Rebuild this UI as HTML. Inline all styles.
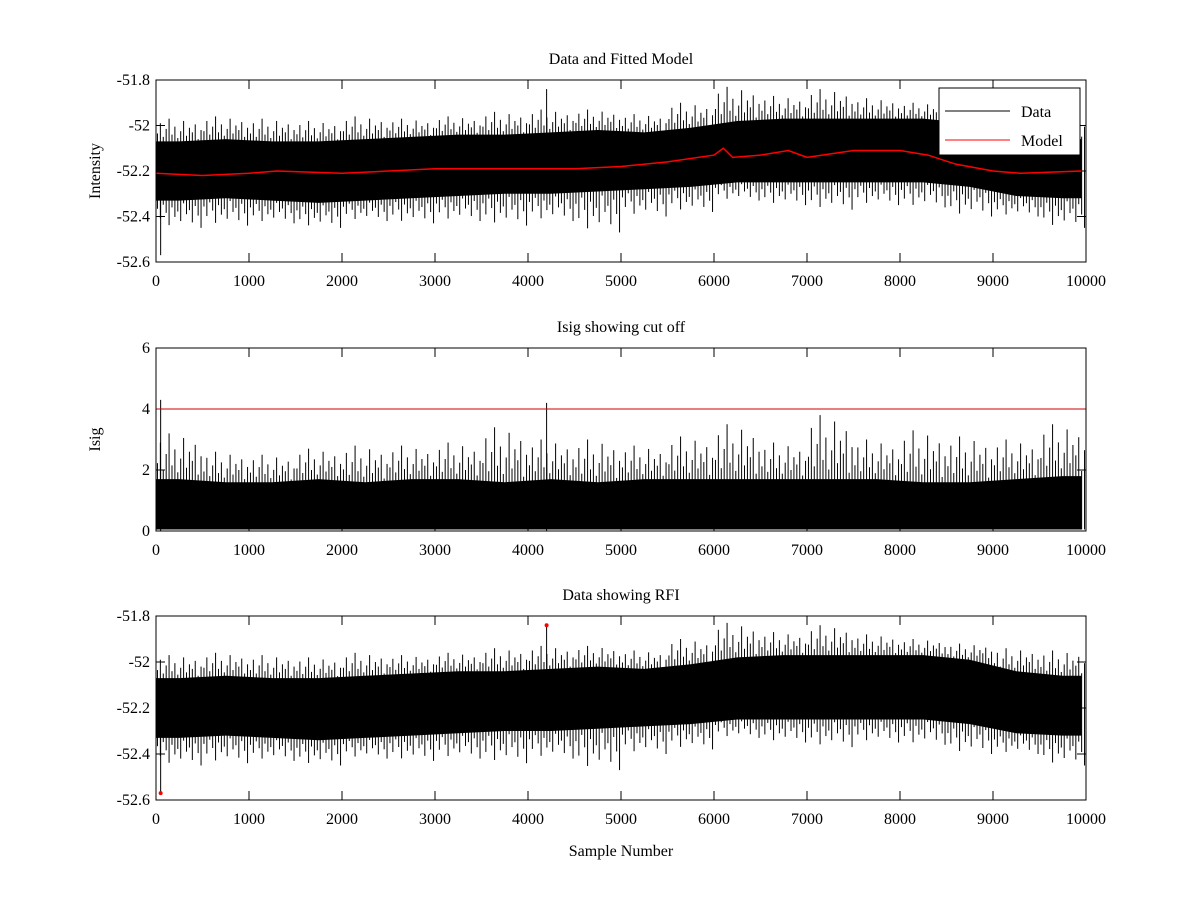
<!DOCTYPE html>
<html><head><meta charset="utf-8"><style>
body{margin:0;background:#fff;}
svg text{font-family:"Liberation Serif",serif;font-size:16px;fill:#000;}
</style></head><body>
<svg id="chart" width="1200" height="900" xmlns="http://www.w3.org/2000/svg"></svg>
<script>
const binCenters=[250,750,1250,1750,2250,2750,3250,3750,4250,4750,5250,5750,6250,6750,7250,7750,8250,8750,9250,9750];
const bandHi=[-52.07,-52.06,-52.07,-52.07,-52.06,-52.05,-52.04,-52.04,-52.03,-52.02,-52.03,-52.01,-51.98,-51.97,-51.97,-51.97,-51.97,-51.99,-52.04,-52.06];
const bandLo=[-52.33,-52.32,-52.33,-52.34,-52.33,-52.32,-52.31,-52.30,-52.30,-52.29,-52.28,-52.27,-52.25,-52.25,-52.25,-52.25,-52.25,-52.27,-52.31,-52.32];
const peakHi=[-51.97,-51.96,-51.97,-51.98,-51.96,-51.97,-51.96,-51.94,-51.93,-51.93,-51.95,-51.90,-51.83,-51.87,-51.84,-51.88,-51.90,-51.92,-51.94,-51.95];
const peakLo=[-52.45,-52.44,-52.43,-52.45,-52.42,-52.43,-52.42,-52.44,-52.42,-52.47,-52.40,-52.38,-52.33,-52.35,-52.37,-52.35,-52.36,-52.40,-52.40,-52.45];
const modelX=[0,500,1000,1300,2000,2500,3000,3500,4000,4500,5000,5500,6000,6100,6200,6500,6800,7000,7500,8000,8300,8600,9000,9300,9950];
const modelY=[-52.21,-52.22,-52.21,-52.2,-52.21,-52.2,-52.19,-52.19,-52.19,-52.19,-52.18,-52.16,-52.13,-52.10,-52.14,-52.13,-52.11,-52.14,-52.11,-52.11,-52.13,-52.17,-52.2,-52.21,-52.2];
const isigHi=[1.7,1.6,1.6,1.7,1.6,1.7,1.7,1.6,1.7,1.6,1.7,1.7,1.7,1.7,1.7,1.7,1.6,1.6,1.7,1.8];
const isigPeak=[3.2,2.6,2.5,2.7,2.8,2.8,2.9,3.4,3.0,3.0,2.8,3.1,3.5,2.9,3.8,3.0,3.3,3.1,3.0,3.5];
const spikeX=[50,4200];
const spikeIntensity=[-52.57,-51.84];
const spikeIsig=[4.3,4.2];
const cutoff=4;
const xTicks=[0,1000,2000,3000,4000,5000,6000,7000,8000,9000,10000];
const yTicks1=[-51.8,-52,-52.2,-52.4,-52.6];
const yTicks2=[0,2,4,6];

const svg=document.getElementById('chart');
const NS='http://www.w3.org/2000/svg';
function el(t,a,p){const e=document.createElementNS(NS,t);for(const k in a)e.setAttribute(k,a[k]);(p||svg).appendChild(e);return e;}
const L=156,R=1086;
const xs=v=>L+(v/10000)*(R-L);
// texture pattern (fractions of reach, style only)
const texture=[0.35,0.8,0.2,0.55,1.0,0.3,0.65,0.15,0.45,0.9,0.25,0.6,0.4,0.75,0.1,0.5];
function panel(top,bot,ymin,ymax,yt,title,ylabel,name){
  const g=el('g',{});
  
  
  const ys=v=>bot-(v-ymin)/(ymax-ymin)*(bot-top);
  const tt=el('text',{x:(L+R)/2,y:top-16,'text-anchor':'middle'},g);tt.textContent=title;
  
  
  if(ylabel){const yl=el('text',{x:0,y:0,'text-anchor':'middle',transform:`translate(100,${(top+bot)/2}) rotate(-90)`},g);yl.textContent=ylabel;
  
  }
  xTicks.forEach(t=>{const x=xs(t);el('line',{x1:x,x2:x,y1:bot,y2:bot-9,stroke:'#000'},g);el('line',{x1:x,x2:x,y1:top,y2:top+9,stroke:'#000'},g);
    const tx=el('text',{x:x,y:bot+24,'text-anchor':'middle'},g);tx.textContent=t;
    
    });
  yt.forEach(t=>{const y=ys(t);el('line',{x1:L,x2:L+9,y1:y,y2:y,stroke:'#000'},g);el('line',{x1:R,x2:R-9,y1:y,y2:y,stroke:'#000'},g);
    const tx=el('text',{x:L-6,y:y+5,'text-anchor':'end'},g);tx.textContent=t;
    
    });
  return {g,ys,top,bot};
}
function frame(p){el('rect',{x:L,y:p.top,width:R-L,height:p.bot-p.top,fill:'none',stroke:'#000'},p.g);}
function noise(p,hi,lo,pkHi,pkLo){
  let d='M'+xs(0)+','+p.ys(hi[0]);
  binCenters.forEach((c,i)=>{d+=' L'+xs(c)+','+p.ys(hi[i]);});
  d+=' L'+xs(9950)+','+p.ys(hi[hi.length-1]);
  d+=' L'+xs(9950)+','+p.ys(lo[lo.length-1]);
  for(let i=binCenters.length-1;i>=0;i--)d+=' L'+xs(binCenters[i])+','+p.ys(lo[i]);
  d+=' L'+xs(0)+','+p.ys(lo[0])+' Z';
  const band=el('path',{d:d,fill:'#000'},p.g);
  
  
  binCenters.forEach((c,i)=>{
    const n=texture.length;
    for(let k=0;k<n;k++){
      const x=xs(c-250+(k+0.5)*500/n);
      const f=texture[k], g2=texture[(k+5)%n];
      const yTop=p.ys(hi[i]+(pkHi[i]-hi[i])*f);
      const yBot=pkLo?p.ys(lo[i]+(pkLo[i]-lo[i])*g2):p.ys(lo[i]);
      const s=el('line',{x1:x,x2:x,y1:yTop,y2:yBot,stroke:'#000','stroke-width':1},p.g);
      
      
    }
  });
}
// Panel 1
const p1=panel(80,262,-52.6,-51.8,yTicks1,'Data and Fitted Model','Intensity','panel-data-model');
noise(p1,bandHi,bandLo,peakHi,peakLo);
spikeX.forEach((x,i)=>el('line',{x1:xs(x),x2:xs(x),y1:p1.ys(bandHi[0]),y2:p1.ys(spikeIntensity[i]),stroke:'#000'},p1.g));
const mpts=modelX.map((x,i)=>xs(x)+','+p1.ys(modelY[i])).join(' ');
const ml=el('polyline',{points:mpts,fill:'none',stroke:'#f00','stroke-width':1.5},p1.g);


const lg=el('g',{},p1.g);


el('rect',{x:939,y:88,width:141,height:67,fill:'#fff',stroke:'#000'},lg);
el('line',{x1:945,x2:1010,y1:111,y2:111,stroke:'#000'},lg);
el('line',{x1:945,x2:1010,y1:140,y2:140,stroke:'#f00'},lg);
let t=el('text',{x:1021,y:117},lg);t.textContent='Data';

t=el('text',{x:1021,y:146},lg);t.textContent='Model';

frame(p1);
// Panel 2
const p2=panel(348,531,0,6,yTicks2,'Isig showing cut off','Isig','panel-isig');
noise(p2,isigHi,isigHi.map(()=>0.05),isigPeak,null);
spikeX.forEach((x,i)=>el('line',{x1:xs(x),x2:xs(x),y1:p2.ys(0),y2:p2.ys(spikeIsig[i]),stroke:'#000'},p2.g));
const cl=el('line',{x1:L,x2:R,y1:p2.ys(cutoff),y2:p2.ys(cutoff),stroke:'#c00'},p2.g);


frame(p2);
// Panel 3
const p3=panel(616,800,-52.6,-51.8,yTicks1,'Data showing RFI','','panel-rfi');
noise(p3,bandHi,bandLo,peakHi,peakLo);
spikeX.forEach((x,i)=>{
  el('line',{x1:xs(x),x2:xs(x),y1:p3.ys(bandHi[0]),y2:p3.ys(spikeIntensity[i]),stroke:'#000'},p3.g);
  const c=el('circle',{cx:xs(x),cy:p3.ys(spikeIntensity[i]),r:2,fill:'#f00'},p3.g);
  
  
});
frame(p3);
const xl=el('text',{x:(L+R)/2,y:856,'text-anchor':'middle'});xl.textContent='Sample Number';


</script>
</body></html>
